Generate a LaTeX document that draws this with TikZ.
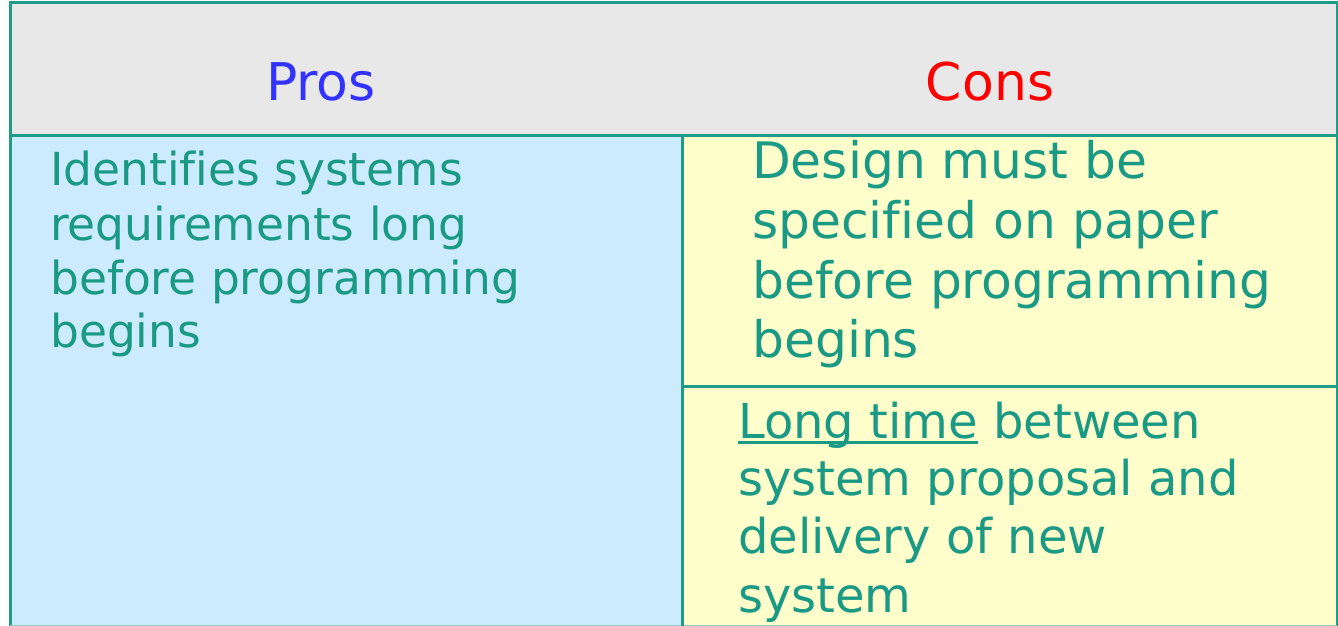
\documentclass[tikz,border=0pt]{standalone}
\usepackage{fontspec}
\setmainfont[Ligatures={NoCommon}]{DejaVu Sans}
\definecolor{teal1}{HTML}{1A9985}
\definecolor{line1}{HTML}{1E9C88}
\definecolor{hdr}{HTML}{E8E8E8}
\definecolor{pro}{HTML}{CCEBFF}
\definecolor{con}{HTML}{FFFFCC}
\definecolor{problue}{HTML}{3333FF}
\definecolor{conred}{HTML}{FF0000}
\newcommand\myul[1]{\setbox0\hbox{#1}\rlap{\rule[-6pt]{\wd0}{3.5pt}}\box0\relax}
\tikzset{
  cellline/.style={draw=line1, line width=3pt},
  txt/.style={anchor=base west, inner sep=0pt, text=teal1},
  lefttxt/.style={txt, font=\fontsize{45.5}{54}\selectfont},
  rtoptxt/.style={txt, font=\fontsize{50.3}{60}\selectfont},
  rbottxt/.style={txt, font=\fontsize{48}{58}\selectfont},
  headtxt/.style={anchor=base, inner sep=0pt, font=\fontsize{52}{60}\selectfont},
}
\begin{document}
\begin{tikzpicture}[x=1pt,y=-1pt]
\useasboundingbox (0,0) rectangle (1338,626);
% fills
\fill[hdr] (10,3) rectangle (1337,135);
\fill[pro] (10,135) rectangle (682,626);
\fill[con] (682,135) rectangle (1337,626);
% lines
\draw[cellline] (10,626) -- (10,3) -- (1337,3) -- (1337,626);
\draw[cellline, line width=1.5pt, draw=line1!50] (10,626) -- (1337,626);
\draw[cellline] (10,135) -- (1337,135);
\draw[cellline] (682,135) -- (682,626);
\draw[cellline] (682,386) -- (1337,386);
% headers
\node[headtxt, text=problue] (pros) at (321,100) {Pros};
\node[headtxt, text=conred] (cons) at (990,100) {Cons};
% left column
\node[lefttxt] (l1) at (50,185) {Identifies systems};
\node[lefttxt] (l2) at (50,240) {requirements long};
\node[lefttxt] (l3) at (50,294) {before programming};
\node[lefttxt] (l4) at (50,347) {begins};
% right top
\node[rtoptxt] (r1) at (752,178) {Design must be};
\node[rtoptxt] (r2) at (752,238) {specified on paper};
\node[rtoptxt] (r3) at (752,298) {before programming};
\node[rtoptxt] (r4) at (752,357) {begins};
% right bottom
\node[rbottxt] (b1) at (738,438) {\myul{Long time} between};
\node[rbottxt] (b2) at (738,495) {system proposal and};
\node[rbottxt] (b3) at (738,553) {delivery of new};
\node[rbottxt] (b4) at (738,612) {system};
\end{tikzpicture}
\end{document}
